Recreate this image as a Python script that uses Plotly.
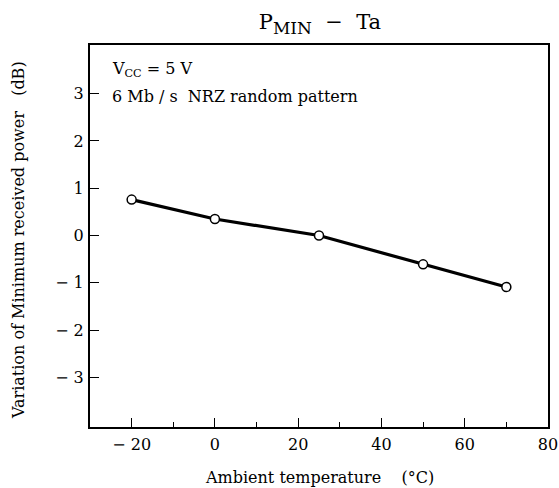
import plotly.graph_objects as go

temps = [-20, 0, 25, 50, 70]
variation = [0.76, 0.35, 0.0, -0.61, -1.09]

x_ticks = [-20, 0, 20, 40, 60, 80]
x_tick_text = ["\u2212 20", "0", "20", "40", "60", "80"]
y_ticks = [-3, -2, -1, 0, 1, 2, 3]
y_tick_text = ["\u2212 3", "\u2212 2", "\u2212 1", "0", "1", "2", "3"]

FONT = "DejaVu Serif"
FS = 16

fig = go.Figure()
fig.add_trace(go.Scatter(
    x=temps, y=variation, mode="lines+markers",
    line=dict(color="black", width=3.2),
    marker=dict(symbol="circle", size=9, color="white",
                line=dict(color="black", width=1.5)),
    showlegend=False, cliponaxis=False, hoverinfo="skip",
))

fig.update_layout(
    width=559, height=488,
    margin=dict(l=90, r=11, t=45, b=61),
    paper_bgcolor="white", plot_bgcolor="white",
    font=dict(family=FONT, size=FS, color="black"),
    title=dict(text='P<sub><span style="font-size:17px">MIN</span></sub>  \u2212  Ta',
               xref="paper", x=0.502, xanchor="center",
               y=0.955, yanchor="middle", font=dict(family=FONT, size=21)),
    showlegend=False,
)

fig.update_xaxes(
    range=[-30, 80], tickvals=x_ticks, ticktext=x_tick_text,
    ticks="inside", ticklen=9, tickwidth=1.2, tickcolor="black",
    minor=dict(dtick=10, tick0=0, ticks="inside", ticklen=5, tickwidth=1, tickcolor="black"),
    showline=True, linecolor="black", linewidth=2, mirror=True,
    showgrid=False, zeroline=False, automargin=False,
    tickfont=dict(family=FONT, size=FS),
    ticklabelstandoff=2,
)
fig.update_yaxes(
    range=[-4.05, 4.03], tickvals=y_ticks, ticktext=y_tick_text,
    ticks="inside", ticklen=9, tickwidth=1.2, tickcolor="black",
    showline=True, linecolor="black", linewidth=2, mirror=True,
    showgrid=False, zeroline=False, automargin=False,
    tickfont=dict(family=FONT, size=FS),
    ticklabelstandoff=1,
)

# axis titles
fig.add_annotation(x=0.502, y=-0.1335, xref="paper", yref="paper", xanchor="center", yanchor="middle",
                   text="Ambient temperature    (\u00b0C)", showarrow=False, font=dict(family=FONT, size=FS))
fig.add_annotation(x=-0.157, y=0.4895, xref="paper", yref="paper", xanchor="center", yanchor="middle",
                   text="Variation of Minimum received power   (dB)", textangle=-90,
                   showarrow=False, font=dict(family=FONT, size=FS))

fig.add_annotation(x=0.044, y=0.935, xref="paper", yref="paper", xanchor="left", yanchor="middle",
                   text="V<sub>CC</sub> = 5 V", showarrow=False, font=dict(family=FONT, size=FS))
fig.add_annotation(x=0.044, y=0.866, xref="paper", yref="paper", xanchor="left", yanchor="middle",
                   text="6 Mb / s  NRZ random pattern", showarrow=False, font=dict(family=FONT, size=FS))

fig.write_html(
    "out.html",
    config={"displayModeBar": False},
    post_script="document.body.style.margin='0';document.body.style.overflow='hidden';",
)
